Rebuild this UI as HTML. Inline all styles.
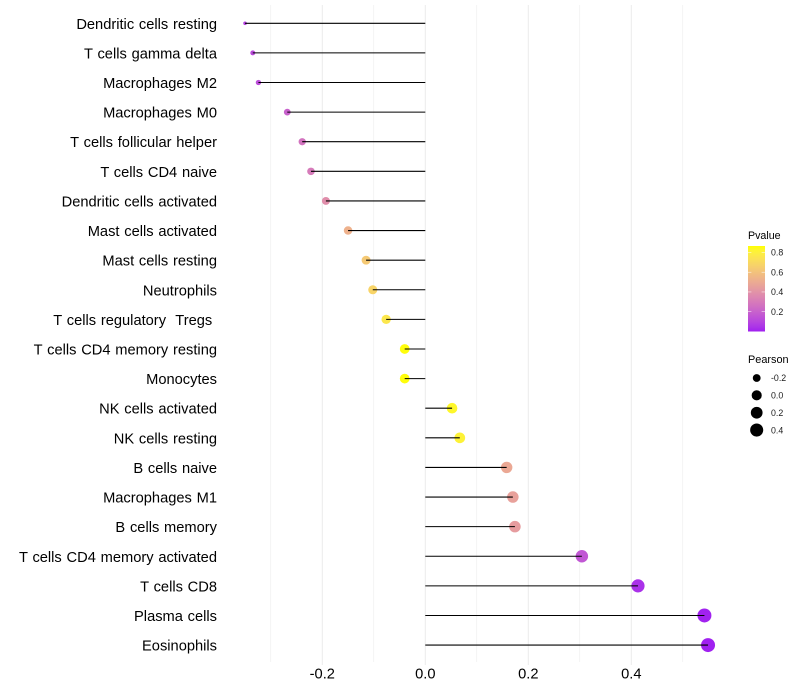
<!DOCTYPE html>
<html>
<head>
<meta charset="utf-8">
<title>Immune cell correlation lollipop chart</title>
<style>
html,body{margin:0;padding:0;background:#fff;width:800px;height:700px;overflow:hidden}
svg{display:block;font-family:"Liberation Sans",sans-serif}
text{white-space:pre}
#yaxis text{word-spacing:0.7px}
</style>
</head>
<body>
<svg id="chart" width="800" height="700" viewBox="0 0 800 700" xmlns="http://www.w3.org/2000/svg">
<defs><linearGradient id="pgrad" x1="0" y1="1" x2="0" y2="0"></linearGradient></defs>
<rect x="0" y="0" width="800" height="700" fill="#ffffff"/>
<g id="grid"></g>
<g id="xaxis"></g>
<g id="yaxis"></g>
<g id="points"></g>
<g id="stems"></g>
<g id="legend-p"></g>
<g id="legend-s"></g>
</svg>
<script>
const categories = ["Dendritic cells resting","T cells gamma delta","Macrophages M2","Macrophages M0","T cells follicular helper","T cells CD4 naive","Dendritic cells activated","Mast cells activated","Mast cells resting","Neutrophils","T cells regulatory  Tregs ","T cells CD4 memory resting","Monocytes","NK cells activated","NK cells resting","B cells naive","Macrophages M1","B cells memory","T cells CD4 memory activated","T cells CD8","Plasma cells","Eosinophils"];
const pearson = [-0.35,-0.335,-0.324,-0.268,-0.239,-0.222,-0.193,-0.15,-0.115,-0.102,-0.076,-0.04,-0.04,0.052,0.067,0.158,0.17,0.174,0.304,0.413,0.542,0.549];
const pvalues = [0.09,0.12,0.13,0.2,0.27,0.3,0.38,0.53,0.63,0.68,0.76,0.86,0.86,0.83,0.81,0.49,0.46,0.44,0.16,0.04,0.003,0.001];
const xMajorTicks = [-0.2,0,0.2,0.4];
const xMinorTicks = [-0.3,-0.1,0.1,0.3,0.5];
const pLegendTicks = [0.2,0.4,0.6,0.8];
const sLegendTicks = [-0.2,0,0.2,0.4];

const svg = document.getElementById('chart');
const NS = 'http://www.w3.org/2000/svg';
const panelTop = 5, panelBottom = 662;
const x0 = 425.3, xPerUnit = 515;
const y0 = 23.28, yStep = 29.61;
const pMax = 0.865;
const xScale = v => x0 + v * xPerUnit;
const yScale = i => y0 + i * yStep;
const sMin = Math.min(...pearson), sMax = Math.max(...pearson);
const rScale = v => 1.8 + 5.2 * Math.sqrt(Math.max(0, (v - sMin) / (sMax - sMin)));

function toLab(c){
  const l = c.map(u => { u /= 255; return u > 0.04045 ? Math.pow((u + 0.055) / 1.055, 2.4) : u / 12.92; });
  const X = (0.4124*l[0] + 0.3576*l[1] + 0.1805*l[2]) / 0.95047;
  const Y = 0.2126*l[0] + 0.7152*l[1] + 0.0722*l[2];
  const Z = (0.0193*l[0] + 0.1192*l[1] + 0.9505*l[2]) / 1.08883;
  const f = t => t > 0.008856 ? Math.cbrt(t) : 7.787*t + 16/116;
  return [116*f(Y)-16, 500*(f(X)-f(Y)), 200*(f(Y)-f(Z))];
}
function fromLab(L){
  const fy = (L[0]+16)/116, fx = fy + L[1]/500, fz = fy - L[2]/200;
  const g = t => t*t*t > 0.008856 ? t*t*t : (t-16/116)/7.787;
  const X = g(fx)*0.95047, Y = g(fy), Z = g(fz)*1.08883;
  const rgb = [3.2406*X-1.5372*Y-0.4986*Z, -0.9689*X+1.8758*Y+0.0415*Z, 0.0557*X-0.2040*Y+1.0570*Z];
  const o = rgb.map(u => { u = Math.min(1, Math.max(0, u)); return Math.round(255*(u > 0.0031308 ? 1.055*Math.pow(u, 1/2.4)-0.055 : 12.92*u)); });
  return 'rgb(' + o.join(',') + ')';
}
const labLow = toLab([160,32,240]), labHigh = toLab([255,255,0]);
function pColor(p){
  const t = Math.min(1, Math.max(0, p / pMax));
  return fromLab(labLow.map((a, i) => a + (labHigh[i] - a) * t));
}
function el(parent, tag, attrs, txt){
  const e = document.createElementNS(NS, tag);
  for (const k in attrs) e.setAttribute(k, attrs[k]);
  if (txt !== undefined) e.textContent = txt;
  parent.appendChild(e);
  return e;
}
const grid = document.getElementById('grid');
const xaxis = document.getElementById('xaxis');
const yaxis = document.getElementById('yaxis');
const points = document.getElementById('points');
const stems = document.getElementById('stems');
const legP = document.getElementById('legend-p');
const legS = document.getElementById('legend-s');

xMinorTicks.forEach(v => {
  const l = el(grid, 'line', {x1:xScale(v), x2:xScale(v), y1:panelTop, y2:panelBottom, stroke:'#ebebeb', 'stroke-width':0.55});
  
  
});
xMajorTicks.forEach(v => {
  const l = el(grid, 'line', {x1:xScale(v), x2:xScale(v), y1:panelTop, y2:panelBottom + 3, stroke:'#ebebeb', 'stroke-width':1});
  
  
  const t = el(xaxis, 'text', {x:xScale(v), y:678.7, 'text-anchor':'middle', 'font-size':14.67, fill:'#000'}, v.toFixed(1));
  
  
});
categories.forEach((name, i) => {
  const y = yScale(i);
  const t = el(yaxis, 'text', {x:217, y:y + 5.5, 'text-anchor':'end', 'font-size':14.67, fill:'#000'}, name);
  
  
  const c = el(points, 'circle', {cx:xScale(pearson[i]), cy:y, r:rScale(pearson[i]), fill:pColor(pvalues[i])});
  
  
  const s = el(stems, 'line', {x1:xScale(0), x2:xScale(pearson[i]), y1:y, y2:y, stroke:'#000', 'stroke-width':1.07});
  
  
});

/* Pvalue colour bar */
const grad = document.getElementById('pgrad');
for (let k = 0; k <= 20; k++){
  const st = el(grad, 'stop', {offset:(k/20), 'stop-color':pColor(pMax*k/20)});
  
  
}
const barX = 748, barW = 17, barTop = 246, barBottom = 331.5;
const barY = p => barBottom - (p / pMax) * (barBottom - barTop);
const pTitle = el(legP, 'text', {x:748, y:239, 'font-size':10.67, fill:'#000'}, 'Pvalue');


const bar = el(legP, 'rect', {x:barX, y:barTop, width:barW, height:barBottom - barTop, fill:'url(#pgrad)'});


pLegendTicks.forEach(p => {
  const a = el(legP, 'line', {x1:barX, x2:barX + 3.4, y1:barY(p), y2:barY(p), stroke:'#fff', 'stroke-width':0.5});
  
  
  const b = el(legP, 'line', {x1:barX + barW - 3.4, x2:barX + barW, y1:barY(p), y2:barY(p), stroke:'#fff', 'stroke-width':0.5});
  
  
  const t = el(legP, 'text', {x:771, y:barY(p) + 3.2, 'font-size':8.8, fill:'#1a1a1a'}, p.toFixed(1));
  
  
});

/* Pearson size legend */
const sTitle = el(legS, 'text', {x:748, y:363, 'font-size':10.9, fill:'#000'}, 'Pearson');


sLegendTicks.forEach((v, i) => {
  const y = 378 + i * 17.35;
  const c = el(legS, 'circle', {cx:756.7, cy:y, r:rScale(v), fill:'#000'});
  
  
  const t = el(legS, 'text', {x:771, y:y + 3.2, 'font-size':8.8, fill:'#1a1a1a'}, v.toFixed(1));
  
  
});
</script>
</body>
</html>
